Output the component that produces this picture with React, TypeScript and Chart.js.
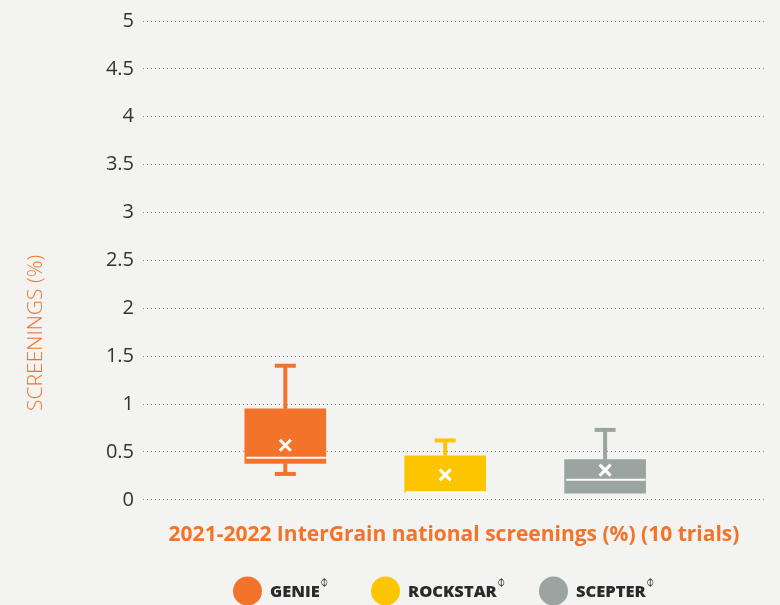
import React, { useEffect, useRef } from "react";
import { Chart, registerables } from "chart.js";

Chart.register(...registerables);

// ---- data ----
const categories = ["GENIE", "ROCKSTAR", "SCEPTER"];
const positions = [1, 2, 3];
const minValues = [0.27, 0.08, 0.07];
const q1Values = [0.38, 0.08, 0.07];
const medianValues = [0.44, 0.08, 0.21];
const q3Values = [0.95, 0.46, 0.42];
const maxValues = [1.4, 0.62, 0.73];
const meanValues = [0.57, 0.26, 0.31];
const yTickValues = [0, 0.5, 1, 1.5, 2, 2.5, 3, 3.5, 4, 4.5, 5];
const yTickLabels = ["0", "0.5", "1", "1.5", "2", "2.5", "3", "3.5", "4", "4.5", "5"];
const colors = ["#F4732A", "#FDC500", "#9AA5A1"];
const xTitle = "2021-2022 InterGrain national screenings (%) (10 trials)";
const yTitle = "SCREENINGS (%)";
const pbrMark = "\u233D";

const BG = "#F3F3F1";
const ORANGE = "#F4732A";
const FONT = "'Open Sans', 'DejaVu Sans', sans-serif";

const bgPlugin = {
  id: "bg",
  beforeDraw(chart: any) {
    const ctx = chart.ctx;
    ctx.save();
    ctx.fillStyle = BG;
    ctx.fillRect(0, 0, chart.width, chart.height);
    ctx.restore();
  },
};

const boxPlugin = {
  id: "boxWhisker",
  afterDatasetsDraw(chart: any) {
    const ctx = chart.ctx;
    const xs = chart.scales.x;
    const ys = chart.scales.y;
    const half = 40.5;
    ctx.save();
    positions.forEach((pos, i) => {
      const px = xs.getPixelForValue(pos);
      const c = colors[i];
      ctx.strokeStyle = c;
      ctx.lineWidth = 4;
      ctx.lineCap = "butt";
      if (maxValues[i] > q3Values[i]) {
        ctx.beginPath();
        ctx.moveTo(px, ys.getPixelForValue(q3Values[i]));
        ctx.lineTo(px, ys.getPixelForValue(maxValues[i]));
        ctx.stroke();
        ctx.beginPath();
        ctx.moveTo(px - 10.5, ys.getPixelForValue(maxValues[i]));
        ctx.lineTo(px + 10.5, ys.getPixelForValue(maxValues[i]));
        ctx.stroke();
      }
      if (minValues[i] < q1Values[i]) {
        ctx.beginPath();
        ctx.moveTo(px, ys.getPixelForValue(q1Values[i]));
        ctx.lineTo(px, ys.getPixelForValue(minValues[i]));
        ctx.stroke();
        ctx.beginPath();
        ctx.moveTo(px - 10.5, ys.getPixelForValue(minValues[i]));
        ctx.lineTo(px + 10.5, ys.getPixelForValue(minValues[i]));
        ctx.stroke();
      }
      ctx.strokeStyle = "#FFFFFF";
      ctx.lineWidth = 2;
      const my = ys.getPixelForValue(medianValues[i]);
      ctx.beginPath();
      ctx.moveTo(px - half + 1.5, my);
      ctx.lineTo(px + half, my);
      ctx.stroke();
      const mny = ys.getPixelForValue(meanValues[i]);
      ctx.lineWidth = 3;
      const s = 5.5;
      ctx.beginPath();
      ctx.moveTo(px - s, mny - s);
      ctx.lineTo(px + s, mny + s);
      ctx.moveTo(px + s, mny - s);
      ctx.lineTo(px - s, mny + s);
      ctx.stroke();
    });
    ctx.restore();
  },
};

const legendX = [247.5, 385.5, 553.5];

const textPlugin = {
  id: "extraText",
  afterDraw(chart: any) {
    const ctx = chart.ctx;
    const area = chart.chartArea;
    ctx.save();
    ctx.translate(36, area.bottom - 167);
    ctx.rotate(-Math.PI / 2);
    ctx.fillStyle = ORANGE;
    ctx.font = `300 21px ${FONT}`;
    ctx.textAlign = "center";
    ctx.textBaseline = "middle";
    ctx.fillText(yTitle, 0, 0);
    ctx.restore();

    ctx.save();
    const ly = 591;
    categories.forEach((name, i) => {
      const cx = legendX[i];
      ctx.fillStyle = colors[i];
      ctx.beginPath();
      ctx.arc(cx, ly, 14.5, 0, Math.PI * 2);
      ctx.fill();
      ctx.fillStyle = "#2A2A2A";
      ctx.font = `800 16.5px ${FONT}`;
      ctx.textAlign = "left";
      ctx.textBaseline = "middle";
      ctx.fillText(name, cx + 22.5, ly + 1);
      const w = ctx.measureText(name).width;
      ctx.font = `200 14px 'DejaVu Sans', sans-serif`;
      ctx.fillStyle = "#3A3A3A";
      ctx.fillText(pbrMark, cx + 23 + w, ly - 8);
    });
    ctx.restore();
  },
};

export default function App() {
  const ref = useRef<HTMLCanvasElement | null>(null);

  useEffect(() => {
    if (!ref.current) return;
    const chart = new Chart(ref.current, {
      type: "bar",
      data: {
        datasets: [
          {
            label: "Box",
            data: positions.map((p, i) => ({ x: p, y: [q1Values[i], q3Values[i]] })) as any,
            backgroundColor: colors,
            borderWidth: 0,
            barThickness: 81,
          },
        ],
      },
      options: {
        responsive: false,
        animation: false,
        events: [],
        layout: { padding: { left: 0, right: 15, top: 19, bottom: 57 } },
        plugins: {
          legend: { display: false },
          tooltip: { enabled: false },
          title: { display: false },
        },
        scales: {
          x: {
            type: "linear",
            offset: false,
            min: 0.11,
            max: 4.0,
            grid: { display: false, drawTicks: false },
            border: { display: false },
            ticks: { display: false },
            title: {
              display: true,
              text: xTitle,
              color: ORANGE,
              font: { family: FONT, size: 21, weight: "bold" },
              padding: { top: 23, bottom: 0 },
            },
          },
          y: {
            type: "linear",
            min: 0,
            max: 5,
            afterBuildTicks(scale: any) {
              scale.ticks = yTickValues.map((v) => ({ value: v }));
            },
            afterFit(scale: any) {
              scale.width = 143;
            },
            grid: { color: "#8C8C8C", lineWidth: 1, drawTicks: false },
            border: { display: false, dash: [1, 3] },
            ticks: {
              color: "#333333",
              padding: 9,
              font: { family: FONT, size: 20 },
              callback: (_v: any, idx: number) => yTickLabels[idx],
            },
          },
        },
      },
      plugins: [bgPlugin, boxPlugin, textPlugin],
    });
    return () => chart.destroy();
  }, []);

  return (
    <div
      style={{
        position: "fixed",
        left: 0,
        top: 0,
        width: 780,
        height: 605,
        background: BG,
      }}
    >
      <canvas ref={ref} width={780} height={605} style={{ display: "block" }} />
    </div>
  );
}
